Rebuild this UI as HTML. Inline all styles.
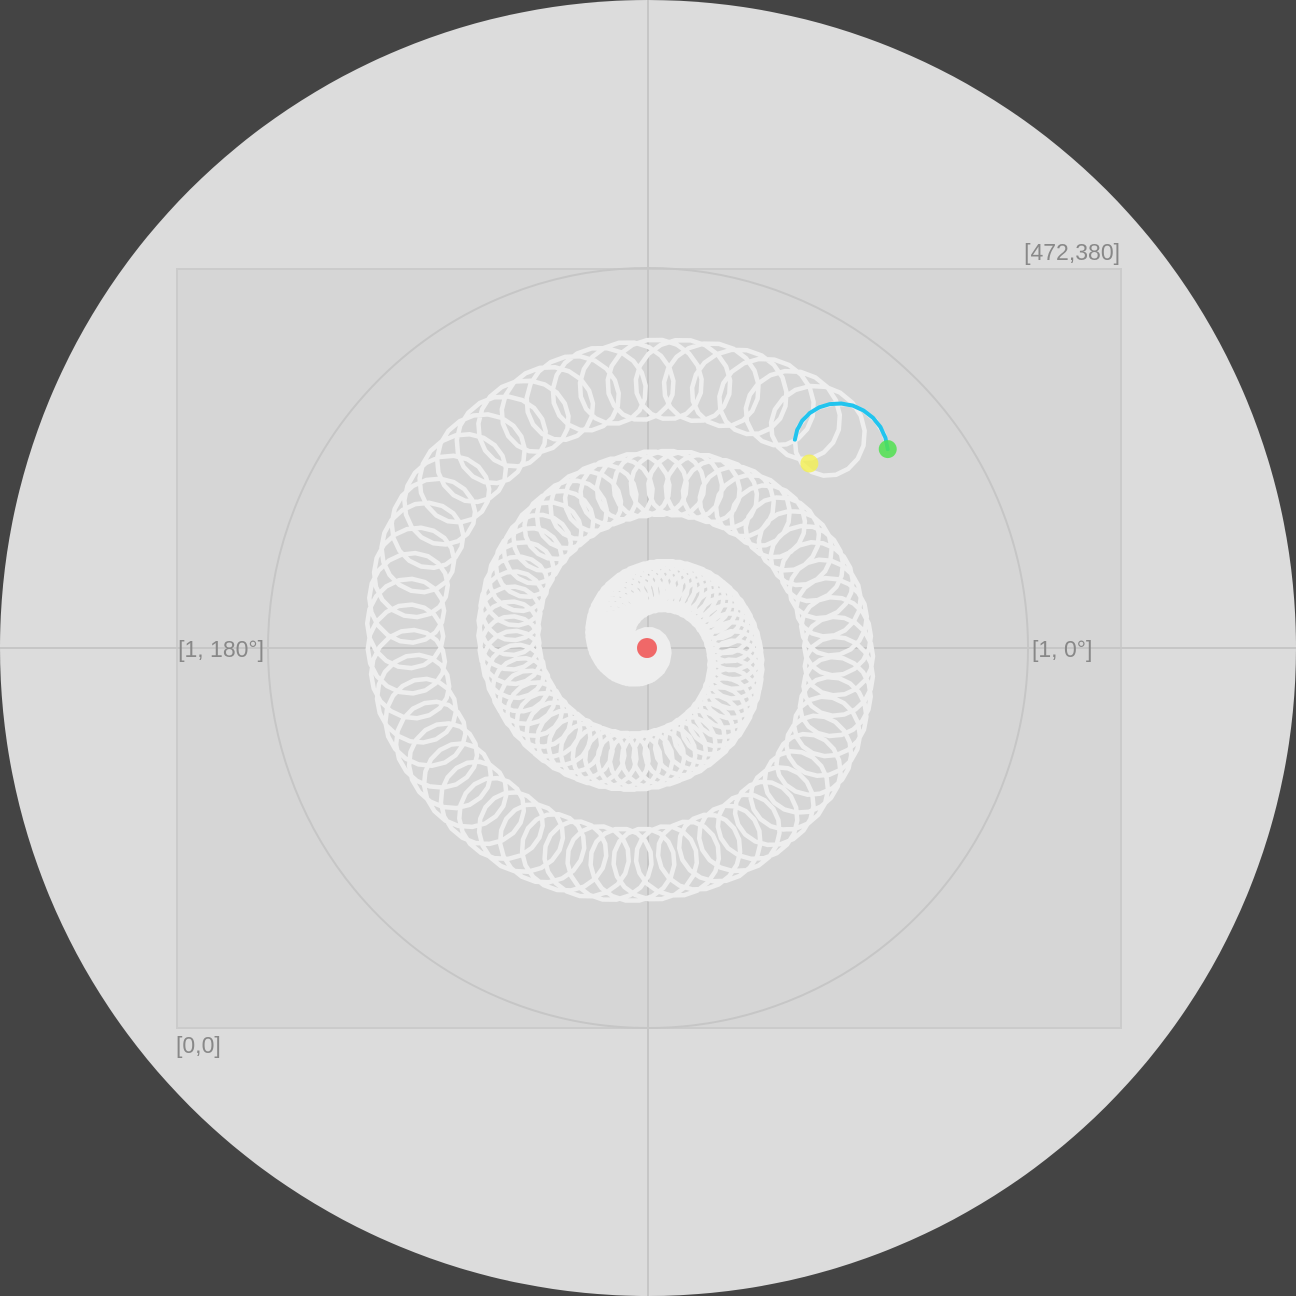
<!DOCTYPE html>
<html><head><meta charset="utf-8"><style>
html,body{margin:0;padding:0;background:#444;}
svg{display:block;font-family:"Liberation Sans",sans-serif;}
</style></head><body>
<svg id="chart" width="1296" height="1296" viewBox="0 0 1296 1296">
<rect x="0" y="0" width="1296" height="1296" fill="#444444"/>
<circle cx="648" cy="648" r="648" fill="#dcdcdc"/>
<rect x="177" y="269" width="944" height="759" fill="#d6d6d6" stroke="#cbcbcb" stroke-width="2"/>
<line x1="0" y1="648" x2="1296" y2="648" stroke="#c6c6c6" stroke-width="2"/>
<line x1="648" y1="0" x2="648" y2="1296" stroke="#c6c6c6" stroke-width="2"/>
<circle cx="648" cy="648" r="380" fill="none" stroke="#c6c6c6" stroke-width="2"/>
<g id="trace"></g>
<path id="recent" fill="none" stroke="#22c4ee" stroke-width="4" stroke-linecap="round"/>
<circle id="startDot" r="10" fill="#f05050" fill-opacity="0.85"/>
<circle id="yellowDot" r="9" fill="#f4f050" fill-opacity="0.8"/>
<circle id="greenDot" r="9" fill="#50e050" fill-opacity="0.85"/>
<text x="1120" y="260" text-anchor="end" font-size="23" fill="#888">[472,380]</text>
<text x="1032" y="657" font-size="23" fill="#888">[1, 0°]</text>
<text x="264" y="657" text-anchor="end" font-size="23" fill="#888">[1, 180°]</text>
<text x="176" y="1053" font-size="23" fill="#888">[0,0]</text>
</svg>
<script>
// spiral parameters (data)
const spiralTurns = [2.705];
const spiralGrowthPerTurn = [104];
const spiralStartAngleTurns = [0.17];
const loopCount = [162];
const loopRadiusBase = [20];
const loopRadiusSlope = [0.074];
const center = [648, 648];

const T = spiralTurns[0], L = loopCount[0];
function pos(t){
  const phi = 2*Math.PI*(spiralStartAngleTurns[0] + t);
  const r = spiralGrowthPerTurn[0]*t;
  const rho = loopRadiusBase[0] + loopRadiusSlope[0]*r;
  const psi = 2*Math.PI*L*t/T;
  return [center[0] + r*Math.cos(phi) + rho*Math.cos(psi),
          center[1] + r*Math.sin(phi) + rho*Math.sin(psi)];
}
const N = L*18;
let d = '';
for(let i=0;i<=N;i++){
  const p = pos(T*i/N);
  d += (i?'L':'M') + p[0].toFixed(1) + ',' + p[1].toFixed(1);
}
const ns='http://www.w3.org/2000/svg';
const path=document.createElementNS(ns,'path');


path.setAttribute('d', d);
path.setAttribute('fill','none');
path.setAttribute('stroke','#eeeeee');
path.setAttribute('stroke-width','4.5');
path.setAttribute('stroke-linejoin','round');
document.getElementById('trace').appendChild(path);

// recent half loop
let rd='';
const steps=12;
for(let i=0;i<=steps;i++){
  const t = T - (T/L)*0.5*(1 - i/steps);
  const p = pos(t);
  rd += (i?'L':'M') + p[0].toFixed(1)+','+p[1].toFixed(1);
}
document.getElementById('recent').setAttribute('d', rd);
const e = pos(T);
const g=document.getElementById('greenDot'); g.setAttribute('cx',e[0]); g.setAttribute('cy',e[1]);
const y=pos(T - (T/L)*0.56);
const yd=document.getElementById('yellowDot'); yd.setAttribute('cx',y[0]+13); yd.setAttribute('cy',y[1]+10);
const s=document.getElementById('startDot'); s.setAttribute('cx',center[0]-1); s.setAttribute('cy',center[1]);
</script>
</body></html>
